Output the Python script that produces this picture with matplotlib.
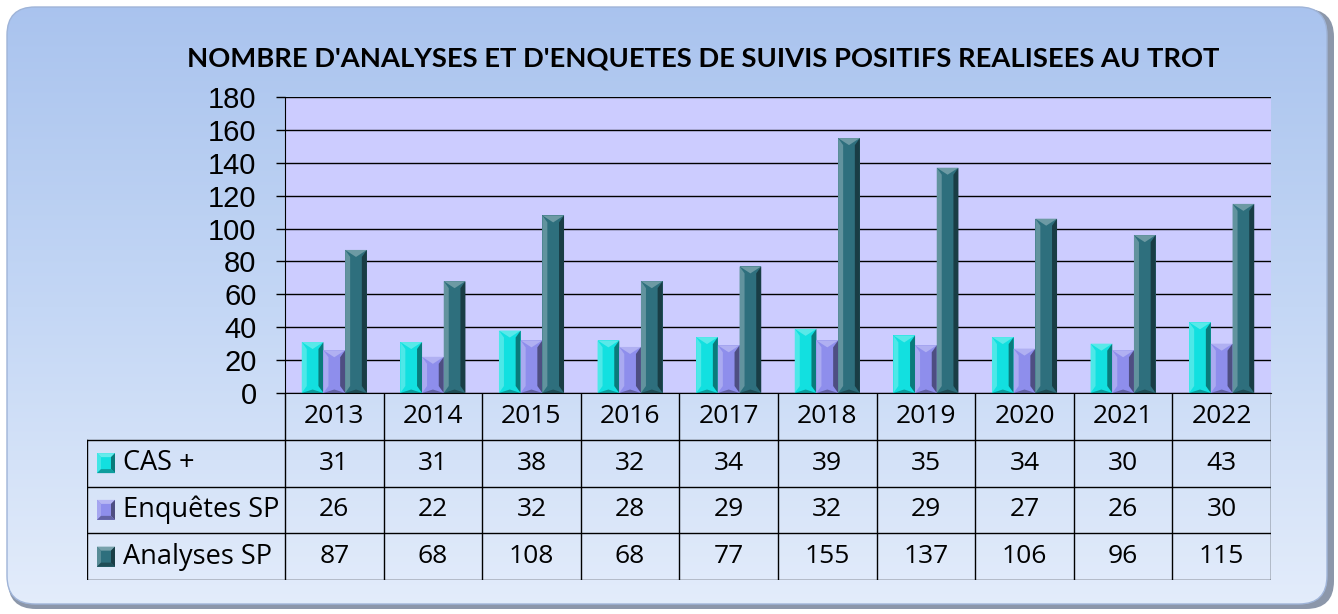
import numpy as np
import matplotlib.pyplot as plt
from matplotlib.patches import FancyBboxPatch, Polygon
from matplotlib.colors import LinearSegmentedColormap, to_rgb

years = ['2013', '2014', '2015', '2016', '2017', '2018', '2019', '2020', '2021', '2022']
cas = [31, 31, 38, 32, 34, 39, 35, 34, 30, 43]
enquetes = [26, 22, 32, 28, 29, 32, 29, 27, 26, 30]
analyses = [87, 68, 108, 68, 77, 155, 137, 106, 96, 115]
series_names = ['CAS +', 'Enquêtes SP', 'Analyses SP']
colors = ['#12E0E0', '#8E8EEC', '#2E6F7D']

W, H = 1338, 614
fig = plt.figure(figsize=(W / 100, H / 100), dpi=100)
fig.patch.set_facecolor('white')

# rounded gradient background
bg = fig.add_axes([0, 0, 1, 1])
bg.set_xlim(0, W)
bg.set_ylim(H, 0)
bg.axis('off')
shadow = FancyBboxPatch((8, 9), W - 12, H - 14, boxstyle='round,pad=0,rounding_size=28',
                        fc='#8c97aa', ec='none', zorder=1)
bg.add_patch(shadow)
box = FancyBboxPatch((7, 7), W - 18, H - 17, boxstyle='round,pad=0,rounding_size=28',
                     fc='none', ec='#9fb4d8', lw=1, zorder=3)
bg.add_patch(box)
cmap = LinearSegmentedColormap.from_list('bgc', ['#A9C3EE', '#C4D7F5', '#E4EDFB'])
im = bg.imshow(np.linspace(0, 1, 256).reshape(-1, 1), extent=(0, W, H, 0), cmap=cmap,
               aspect='auto', zorder=2)
im.set_clip_path(box)
bg.set_xlim(0, W)
bg.set_ylim(H, 0)

fig.text(703 / W, 1 - 58 / H, "NOMBRE D'ANALYSES ET D'ENQUETES DE SUIVIS POSITIFS REALISEES AU TROT",
         ha='center', va='center', fontsize=19.7, fontweight='bold', family='Lato')


def shade(c, f):
    r = np.array(to_rgb(c))
    if f > 0:
        return tuple(r + (1 - r) * f)
    return tuple(r * (1 + f))


def bevel_bar(ax, x0, w, h, col, dx, dy):
    ax.add_patch(Polygon([(x0, 0), (x0 + w, 0), (x0 + w, h), (x0, h)], closed=True, fc=col, ec='none'))
    d = min(dy, h / 2)
    ax.add_patch(Polygon([(x0, 0), (x0, h), (x0 + dx, h - d), (x0 + dx, d)], fc=shade(col, 0.25), ec='none'))
    ax.add_patch(Polygon([(x0 + w, 0), (x0 + w, h), (x0 + w - dx, h - d), (x0 + w - dx, d)],
                         fc=shade(col, -0.45), ec='none'))
    ax.add_patch(Polygon([(x0, h), (x0 + w, h), (x0 + w / 2, h - d)], fc=shade(col, 0.3), ec='none'))
    ax.add_patch(Polygon([(x0, 0), (x0 + w, 0), (x0 + w / 2, d * 0.5)], fc=shade(col, -0.3), ec='none'))


# plot area
x_l, x_r, y_t, y_b, t_b = 285, 1271, 97, 393, 580
ax = fig.add_axes([x_l / W, (H - y_b) / H, (x_r - x_l) / W, (y_b - y_t) / H])
ax.set_facecolor('#CCCCFF')
ax.set_xlim(-0.5, 9.5)
ax.set_ylim(0, 180)
ax.set_yticks(range(0, 181, 20))
ax.tick_params(axis='y', labelsize=21, length=6.5, width=1, color='black', pad=14)
for lab in ax.get_yticklabels():
    lab.set_family('Liberation Sans')
ax.set_xticks([])
ax.grid(axis='y', color='black', lw=1)
ax.set_axisbelow(True)
for s in ['top', 'right']:
    ax.spines[s].set_visible(False)
ax.spines['left'].set_color('black')
ax.spines['bottom'].set_color('black')

bw = 0.22
px_x = (x_r - x_l) / 10
px_y = (y_b - y_t) / 180
for i, vals in enumerate([cas, enquetes, analyses]):
    for j, v in enumerate(vals):
        x0 = j + (i - 1) * bw - bw / 2
        bevel_bar(ax, x0, bw, v, colors[i], 5 / px_x, 7 / px_y)

# data table
tx = fig.add_axes([87 / W, (H - t_b) / H, (x_r - 87) / W, (t_b - y_b) / H])
left = -0.5 - (x_l - 87) / px_x
tx.set_xlim(left, 9.5)
tx.set_ylim(0, 4)
tx.axis('off')
for k in range(11):
    tx.plot([k - 0.5, k - 0.5], [0, 4], color='black', lw=1)
tx.plot([left, left], [0, 3], color='black', lw=1)
for yy in [0, 1, 2, 3]:
    tx.plot([left, 9.5], [yy, yy], color='black', lw=1)
for j, yr in enumerate(years):
    tx.text(j, 3.5, yr, ha='center', va='center', fontsize=19, family='Open Sans')
row_px = (t_b - y_b) / 4
for i, (name, vals) in enumerate(zip(series_names, [cas, enquetes, analyses])):
    yc = 2.5 - i
    for j, v in enumerate(vals):
        tx.text(j, yc, str(v), ha='center', va='center', fontsize=19, family='Open Sans')
    kx = left + 10 / px_x
    kw = 18 / px_x
    kh = 10 / row_px
    kb = 4 / px_x
    kbh = 4 / row_px
    c = colors[i]
    tx.add_patch(Polygon([(kx, yc - kh), (kx + kw, yc - kh), (kx + kw, yc + kh), (kx, yc + kh)],
                         fc=c, ec='none'))
    tx.add_patch(Polygon([(kx, yc + kh), (kx + kw, yc + kh), (kx + kw - kb, yc + kh - kbh), (kx + kb, yc + kh - kbh)],
                         fc=shade(c, 0.35), ec='none'))
    tx.add_patch(Polygon([(kx, yc - kh), (kx, yc + kh), (kx + kb, yc + kh - kbh), (kx + kb, yc - kh + kbh)],
                         fc=shade(c, 0.2), ec='none'))
    tx.add_patch(Polygon([(kx + kw, yc - kh), (kx + kw, yc + kh), (kx + kw - kb, yc + kh - kbh), (kx + kw - kb, yc - kh + kbh)],
                         fc=shade(c, -0.45), ec='none'))
    tx.add_patch(Polygon([(kx, yc - kh), (kx + kw, yc - kh), (kx + kw - kb, yc - kh + kbh), (kx + kb, yc - kh + kbh)],
                         fc=shade(c, -0.3), ec='none'))
    tx.text(left + 36 / px_x, yc, name, ha='left', va='center', fontsize=19.5, family='Open Sans')

fig.savefig('out.png', dpi=100)
